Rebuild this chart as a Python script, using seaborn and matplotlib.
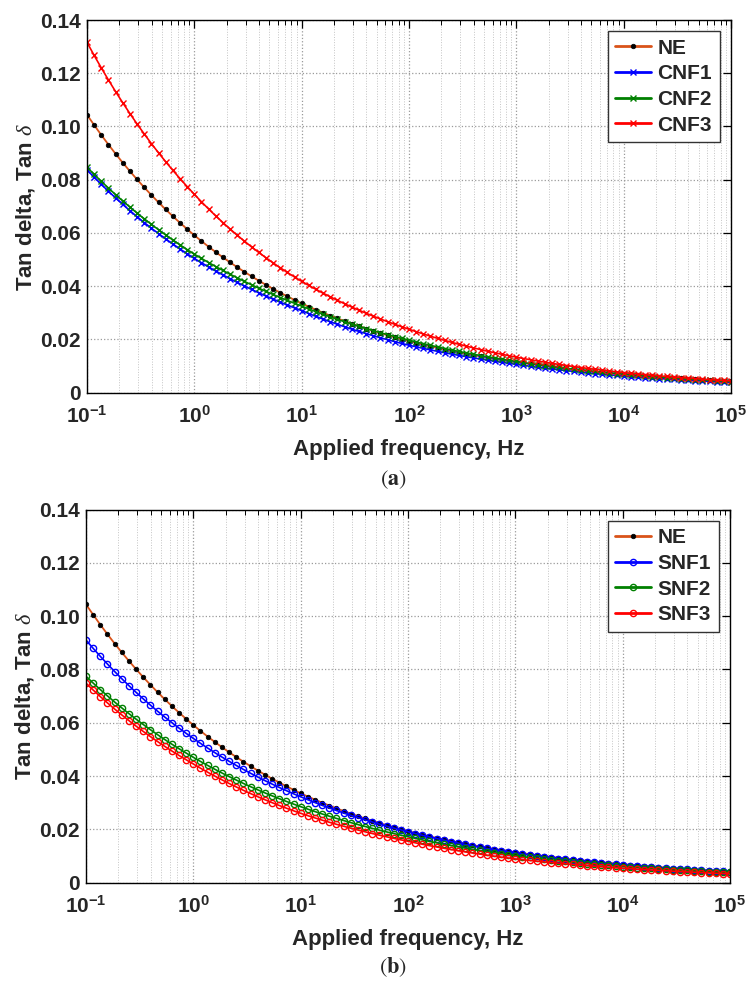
import numpy as np
import matplotlib
matplotlib.use('Agg')
import matplotlib.pyplot as plt
import seaborn as sns
from matplotlib.ticker import FixedLocator, LogLocator, NullFormatter

# ---------------- data ----------------
freq = np.logspace(-1, 5, 91)   # measurement frequencies, 15 per decade

ne = [0.10440, 0.10052, 0.09678, 0.09318, 0.08971, 0.08637, 0.08316, 0.08007, 0.07709, 0.07422, 0.07146, 0.06880, 0.06624, 0.06378, 0.06141,
      0.05910, 0.05691, 0.05480, 0.05276, 0.05081, 0.04892, 0.04711, 0.04536, 0.04368, 0.04206, 0.04050, 0.03899, 0.03755, 0.03615, 0.03481,
      0.03350, 0.03229, 0.03113, 0.03000, 0.02892, 0.02787, 0.02687, 0.02590, 0.02496, 0.02406, 0.02319, 0.02236, 0.02155, 0.02077, 0.02002,
      0.01930, 0.01863, 0.01799, 0.01737, 0.01677, 0.01619, 0.01563, 0.01509, 0.01457, 0.01407, 0.01359, 0.01312, 0.01266, 0.01223, 0.01180,
      0.01140, 0.01103, 0.01066, 0.01031, 0.00997, 0.00964, 0.00933, 0.00902, 0.00872, 0.00844, 0.00816, 0.00789, 0.00763, 0.00738, 0.00714,
      0.00690, 0.00668, 0.00646, 0.00625, 0.00605, 0.00585, 0.00566, 0.00548, 0.00530, 0.00513, 0.00496, 0.00480, 0.00464, 0.00449, 0.00435,
      0.00420]

cnf1 = [0.08370, 0.08092, 0.07823, 0.07564, 0.07313, 0.07070, 0.06835, 0.06608, 0.06389, 0.06177, 0.05972, 0.05773, 0.05582, 0.05396, 0.05217,
        0.05040, 0.04877, 0.04720, 0.04567, 0.04420, 0.04277, 0.04139, 0.04005, 0.03876, 0.03751, 0.03630, 0.03512, 0.03399, 0.03289, 0.03183,
        0.03080, 0.02969, 0.02863, 0.02760, 0.02661, 0.02565, 0.02473, 0.02385, 0.02299, 0.02216, 0.02137, 0.02060, 0.01986, 0.01915, 0.01846,
        0.01780, 0.01720, 0.01661, 0.01605, 0.01550, 0.01497, 0.01446, 0.01397, 0.01350, 0.01304, 0.01259, 0.01217, 0.01175, 0.01135, 0.01097,
        0.01060, 0.01023, 0.00987, 0.00952, 0.00919, 0.00887, 0.00856, 0.00826, 0.00797, 0.00769, 0.00742, 0.00716, 0.00690, 0.00666, 0.00643,
        0.00620, 0.00600, 0.00581, 0.00562, 0.00544, 0.00527, 0.00510, 0.00493, 0.00478, 0.00462, 0.00448, 0.00433, 0.00419, 0.00406, 0.00393,
        0.00380]

cnf2 = [0.08470, 0.08199, 0.07937, 0.07683, 0.07437, 0.07199, 0.06968, 0.06745, 0.06530, 0.06321, 0.06118, 0.05923, 0.05733, 0.05550, 0.05372,
        0.05200, 0.05040, 0.04885, 0.04734, 0.04588, 0.04447, 0.04310, 0.04177, 0.04049, 0.03924, 0.03803, 0.03686, 0.03572, 0.03462, 0.03356,
        0.03250, 0.03143, 0.03040, 0.02941, 0.02844, 0.02751, 0.02661, 0.02573, 0.02489, 0.02407, 0.02328, 0.02252, 0.02178, 0.02107, 0.02038,
        0.01970, 0.01903, 0.01838, 0.01775, 0.01715, 0.01656, 0.01600, 0.01545, 0.01492, 0.01442, 0.01392, 0.01345, 0.01299, 0.01255, 0.01212,
        0.01170, 0.01130, 0.01090, 0.01053, 0.01016, 0.00981, 0.00947, 0.00914, 0.00883, 0.00852, 0.00823, 0.00794, 0.00767, 0.00740, 0.00715,
        0.00690, 0.00667, 0.00644, 0.00622, 0.00601, 0.00580, 0.00560, 0.00541, 0.00523, 0.00505, 0.00488, 0.00471, 0.00455, 0.00440, 0.00425,
        0.00410]

cnf3 = [0.13160, 0.12670, 0.12199, 0.11745, 0.11308, 0.10888, 0.10483, 0.10093, 0.09717, 0.09356, 0.09008, 0.08673, 0.08350, 0.08040, 0.07740,
        0.07450, 0.07168, 0.06897, 0.06637, 0.06386, 0.06144, 0.05912, 0.05689, 0.05474, 0.05267, 0.05068, 0.04876, 0.04692, 0.04514, 0.04344,
        0.04180, 0.04026, 0.03878, 0.03735, 0.03598, 0.03465, 0.03338, 0.03215, 0.03097, 0.02983, 0.02873, 0.02767, 0.02666, 0.02567, 0.02473,
        0.02380, 0.02290, 0.02203, 0.02119, 0.02038, 0.01961, 0.01886, 0.01815, 0.01746, 0.01679, 0.01616, 0.01554, 0.01495, 0.01438, 0.01384,
        0.01330, 0.01280, 0.01232, 0.01186, 0.01141, 0.01099, 0.01057, 0.01018, 0.00980, 0.00943, 0.00907, 0.00873, 0.00841, 0.00809, 0.00779,
        0.00750, 0.00724, 0.00699, 0.00674, 0.00651, 0.00628, 0.00606, 0.00585, 0.00565, 0.00545, 0.00526, 0.00507, 0.00490, 0.00473, 0.00456,
        0.00440]

snf1 = [0.09100, 0.08790, 0.08490, 0.08201, 0.07921, 0.07651, 0.07390, 0.07138, 0.06895, 0.06659, 0.06432, 0.06213, 0.06001, 0.05797, 0.05599,
        0.05410, 0.05226, 0.05048, 0.04877, 0.04711, 0.04551, 0.04396, 0.04247, 0.04102, 0.03963, 0.03828, 0.03698, 0.03572, 0.03451, 0.03333,
        0.03220, 0.03110, 0.03004, 0.02901, 0.02802, 0.02706, 0.02613, 0.02524, 0.02438, 0.02354, 0.02274, 0.02196, 0.02121, 0.02048, 0.01978,
        0.01910, 0.01842, 0.01777, 0.01714, 0.01653, 0.01594, 0.01538, 0.01483, 0.01430, 0.01380, 0.01331, 0.01283, 0.01238, 0.01194, 0.01152,
        0.01110, 0.01072, 0.01036, 0.01000, 0.00966, 0.00933, 0.00901, 0.00871, 0.00841, 0.00812, 0.00785, 0.00758, 0.00732, 0.00707, 0.00683,
        0.00660, 0.00639, 0.00620, 0.00600, 0.00582, 0.00563, 0.00546, 0.00529, 0.00512, 0.00496, 0.00481, 0.00466, 0.00451, 0.00437, 0.00424,
        0.00410]

snf2 = [0.07740, 0.07487, 0.07242, 0.07005, 0.06776, 0.06555, 0.06340, 0.06133, 0.05932, 0.05738, 0.05551, 0.05369, 0.05194, 0.05024, 0.04860,
        0.04700, 0.04546, 0.04397, 0.04253, 0.04113, 0.03978, 0.03848, 0.03721, 0.03599, 0.03481, 0.03367, 0.03257, 0.03150, 0.03047, 0.02947,
        0.02850, 0.02756, 0.02665, 0.02576, 0.02491, 0.02409, 0.02329, 0.02252, 0.02177, 0.02105, 0.02035, 0.01968, 0.01903, 0.01840, 0.01779,
        0.01720, 0.01660, 0.01602, 0.01546, 0.01492, 0.01440, 0.01390, 0.01341, 0.01295, 0.01249, 0.01206, 0.01164, 0.01123, 0.01084, 0.01046,
        0.01010, 0.00976, 0.00942, 0.00910, 0.00879, 0.00849, 0.00820, 0.00792, 0.00765, 0.00739, 0.00714, 0.00690, 0.00666, 0.00643, 0.00622,
        0.00600, 0.00582, 0.00565, 0.00548, 0.00531, 0.00515, 0.00500, 0.00485, 0.00470, 0.00456, 0.00443, 0.00429, 0.00416, 0.00404, 0.00392,
        0.00380]

snf3 = [0.07480, 0.07226, 0.06980, 0.06743, 0.06513, 0.06292, 0.06078, 0.05871, 0.05672, 0.05479, 0.05293, 0.05113, 0.04939, 0.04771, 0.04609,
        0.04450, 0.04293, 0.04142, 0.03997, 0.03856, 0.03720, 0.03589, 0.03463, 0.03341, 0.03223, 0.03110, 0.03000, 0.02895, 0.02793, 0.02695,
        0.02600, 0.02512, 0.02427, 0.02344, 0.02265, 0.02188, 0.02114, 0.02042, 0.01973, 0.01906, 0.01842, 0.01779, 0.01719, 0.01661, 0.01604,
        0.01550, 0.01494, 0.01440, 0.01387, 0.01337, 0.01288, 0.01242, 0.01196, 0.01153, 0.01111, 0.01071, 0.01032, 0.00994, 0.00958, 0.00924,
        0.00890, 0.00861, 0.00833, 0.00805, 0.00779, 0.00753, 0.00729, 0.00705, 0.00682, 0.00659, 0.00638, 0.00617, 0.00597, 0.00577, 0.00558,
        0.00540, 0.00523, 0.00506, 0.00489, 0.00474, 0.00458, 0.00444, 0.00429, 0.00415, 0.00402, 0.00389, 0.00376, 0.00364, 0.00352, 0.00341,
        0.00330]

labels_a = ['NE', 'CNF1', 'CNF2', 'CNF3']
labels_b = ['NE', 'SNF1', 'SNF2', 'SNF3']
ytick_vals = [0, 0.02, 0.04, 0.06, 0.08, 0.10, 0.12, 0.14]
ytick_labels = ['0', '0.02', '0.04', '0.06', '0.08', '0.10', '0.12', '0.14']
xtick_exps = [-1, 0, 1, 2, 3, 4, 5]

# ---------------- style ----------------
sns.set_style('white')
plt.rcParams['font.family'] = ['Liberation Sans', 'DejaVu Sans']
plt.rcParams['mathtext.fontset'] = 'custom'
plt.rcParams['mathtext.bf'] = 'Liberation Sans:bold'
plt.rcParams['mathtext.rm'] = 'Liberation Sans:bold'
plt.rcParams['mathtext.it'] = 'Liberation Serif:italic'

NE_COLOR = '#D95319'

fig = plt.figure(figsize=(7.49, 9.83), dpi=100)
ax1 = fig.add_axes([87/749, 1 - 392.6/983, 644/749, 372.6/983])
ax2 = fig.add_axes([86/749, 1 - 882.6/983, 644/749, 373.1/983])


def draw_ne(ax):
    sns.lineplot(x=freq, y=ne, ax=ax, color=NE_COLOR, lw=1.3, marker='o',
                 markersize=3.3, markerfacecolor='black', markeredgecolor='black',
                 markeredgewidth=0.5, label='NE')


def style_axes(ax):
    ax.set_xscale('log')
    ax.set_xlim(0.1, 1e5)
    ax.set_ylim(0, 0.14)
    ax.set_yticks(ytick_vals)
    ax.set_yticklabels(ytick_labels, fontweight='bold', fontsize=15)
    ax.xaxis.set_major_locator(FixedLocator([10.0 ** e for e in xtick_exps]))
    ax.set_xticklabels([r'$\mathbf{10^{%d}}$' % e for e in xtick_exps], fontsize=15)
    ax.xaxis.set_minor_locator(LogLocator(base=10, subs=np.arange(2, 10), numticks=20))
    ax.xaxis.set_minor_formatter(NullFormatter())
    ax.tick_params(which='both', direction='in', top=True, right=True, color='black')
    ax.tick_params(which='major', length=6, width=0.9)
    ax.tick_params(which='minor', length=3.5, width=0.7)
    ax.tick_params(axis='x', which='major', pad=9)
    ax.tick_params(axis='y', which='major', pad=4.5)
    ax.grid(True, which='major', ls=':', color='#9a9a9a', lw=0.9)
    ax.grid(True, which='minor', axis='x', ls=':', color='#c4c4c4', lw=0.7)
    for s in ax.spines.values():
        s.set_color('black')
        s.set_linewidth(1.0)
    ax.set_xlabel('Applied frequency, Hz', fontsize=16, fontweight='bold', labelpad=9)
    ax.set_ylabel(r'Tan delta, Tan $\delta$', fontsize=16, fontweight='bold', labelpad=2.5)
    leg = ax.legend(loc='upper right', frameon=True, fancybox=False, framealpha=1,
                    edgecolor='#333333', borderaxespad=0.55, handlelength=1.75,
                    handletextpad=0.3, labelspacing=0.32, borderpad=0.35,
                    prop={'weight': 'bold', 'size': 15})
    leg.get_frame().set_linewidth(1.0)
    for line in leg.get_lines():
        line.set_linewidth(2.0)


# ---- panel (a)
draw_ne(ax1)
for vals, col, lab in [(cnf1, 'blue', labels_a[1]), (cnf2, 'green', labels_a[2]), (cnf3, 'red', labels_a[3])]:
    sns.lineplot(x=freq, y=vals, ax=ax1, color=col, lw=1.2, marker='x',
                 markersize=4.5, markeredgewidth=1.0, markeredgecolor=col, label=lab)
style_axes(ax1)

# ---- panel (b)
draw_ne(ax2)
for vals, col, lab in [(snf1, 'blue', labels_b[1]), (snf2, 'green', labels_b[2]), (snf3, 'red', labels_b[3])]:
    sns.lineplot(x=freq, y=vals, ax=ax2, color=col, lw=1.2, marker='o',
                 markersize=4.5, markeredgewidth=1.0, markeredgecolor=col,
                 markerfacecolor='none', label=lab)
style_axes(ax2)

fig.text(393/749, 1 - 480/983, r'$(\mathbf{a})$', ha='center', va='center', fontsize=16,
         math_fontfamily='stix')
fig.text(393/749, 1 - 967/983, r'$(\mathbf{b})$', ha='center', va='center', fontsize=16,
         math_fontfamily='stix')

fig.savefig('out.png', dpi=100)
